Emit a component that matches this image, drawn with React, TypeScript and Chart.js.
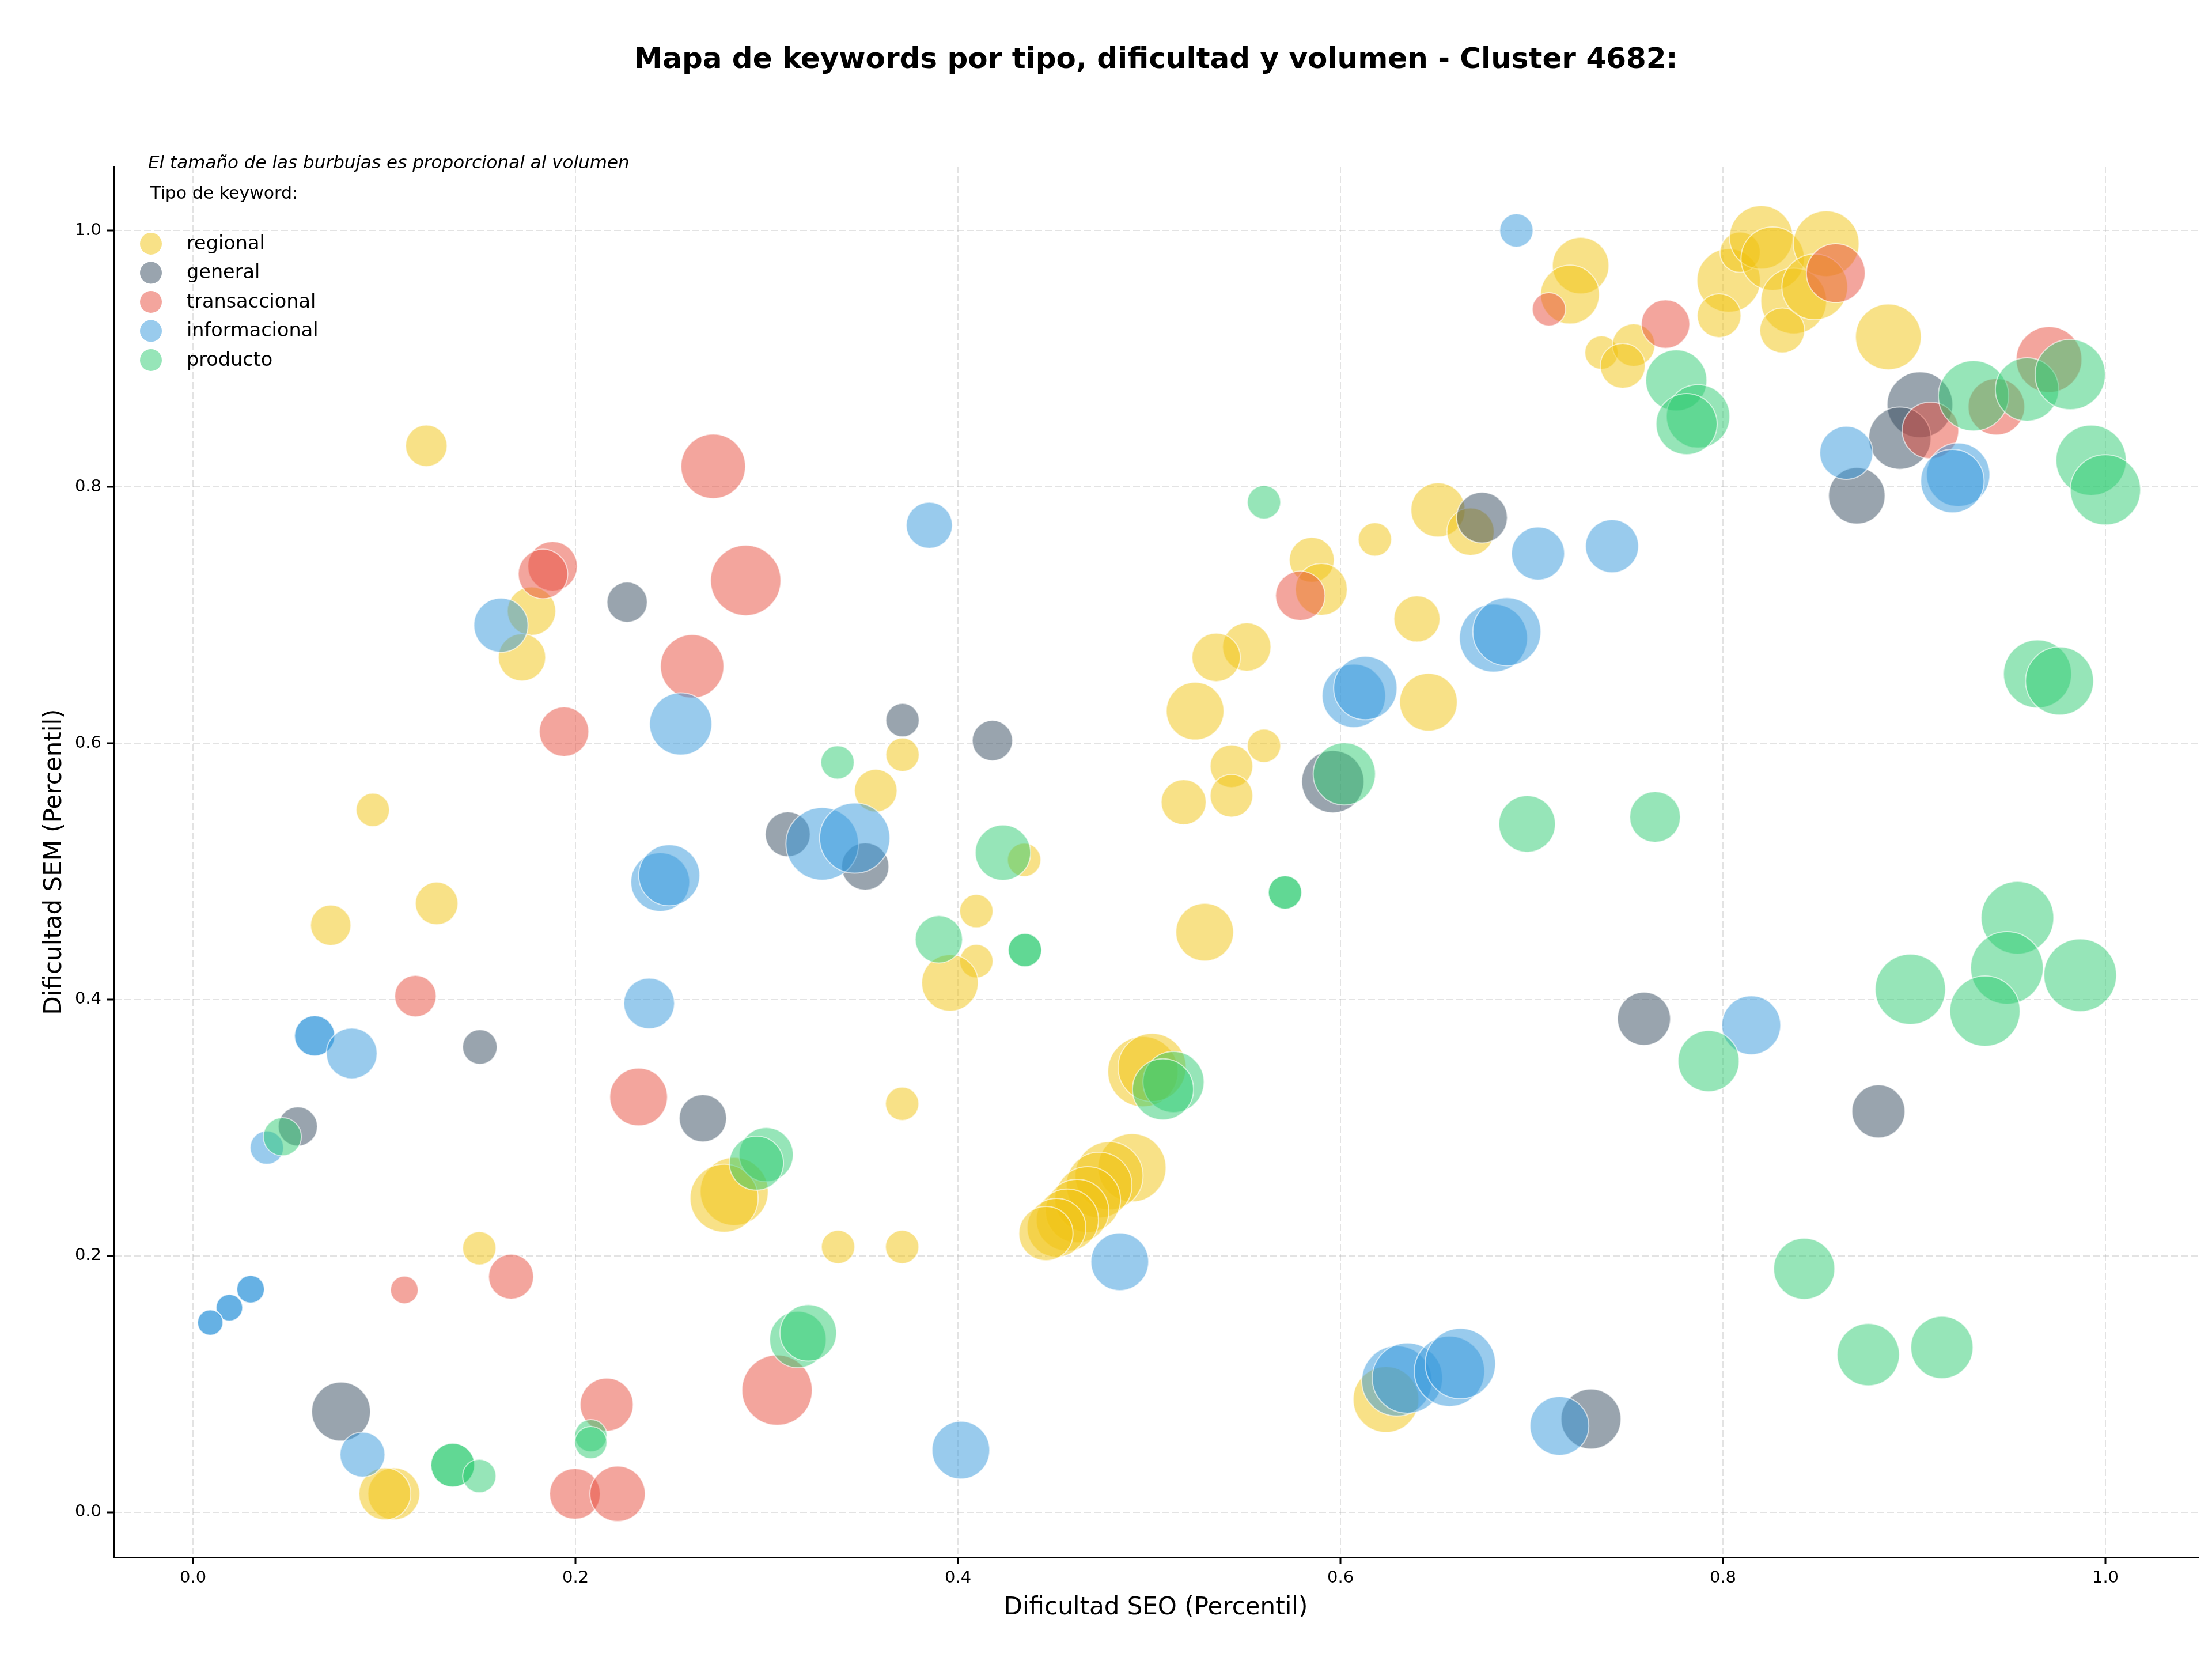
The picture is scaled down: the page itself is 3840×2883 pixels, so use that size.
import React, { useEffect, useRef } from "react";
import { Chart, registerables, BubbleController } from "chart.js";

Chart.register(...registerables);
// matplotlib does not shrink the axes to fit the largest bubble
(BubbleController.prototype as any).getMaxOverflow = function () {
  return 0;
};

const TITLE = "Mapa de keywords por tipo, dificultad y volumen - Cluster 4682:";
const SUBTITLE = "El tamaño de las burbujas es proporcional al volumen";
const LEGEND_TITLE = "Tipo de keyword:";
const X_LABEL = "Dificultad SEO (Percentil)";
const Y_LABEL = "Dificultad SEM (Percentil)";
const TICKS = [0, 0.2, 0.4, 0.6, 0.8, 1.0];

const CATEGORIES = ["regional", "general", "transaccional", "informacional", "producto"];

// regional
const regionalX = [0.122,0.177,0.172,0.094,0.585,0.590,0.618,0.651,0.668,0.640,0.551,0.535,0.524,0.646,0.371,0.357,0.560,0.543,0.543,0.518,0.4346,0.7256,0.720,0.7365,0.7533,0.7476,0.803,0.798,0.809,0.820,0.826,0.837,0.831,0.854,0.848,0.8865,0.072,0.1274,0.283,0.2777,0.1497,0.105,0.1003,0.4096,0.4096,0.3958,0.529,0.3708,0.3373,0.3708,0.4967,0.5015,0.491,0.479,0.4738,0.4678,0.4623,0.4572,0.4515,0.446,0.6238];
const regionalY = [0.832,0.703,0.667,0.548,0.743,0.720,0.759,0.782,0.765,0.697,0.675,0.667,0.625,0.632,0.591,0.563,0.598,0.582,0.559,0.554,0.509,0.9726,0.950,0.9047,0.9106,0.8944,0.961,0.9335,0.983,0.9946,0.978,0.945,0.922,0.9897,0.956,0.917,0.458,0.475,0.2503,0.245,0.206,0.0144,0.0144,0.469,0.430,0.413,0.4526,0.3187,0.207,0.207,0.3438,0.347,0.2688,0.2625,0.2553,0.244,0.235,0.228,0.222,0.2175,0.088];
const regionalVol = [144,196,187,93,169,225,93,245,187,178,196,196,278,278,93,152,93,152,152,169,93,267,289,93,152,169,336,160,136,336,336,361,169,361,361,361,136,152,387,387,93,225,225,93,93,267,278,93,93,93,413,387,387,387,361,361,336,324,289,245,361];

// general
const generalX = [0.227,0.311,0.674,0.371,0.418,0.596,0.3515,0.903,0.8925,0.870,0.150,0.2666,0.0548,0.0774,0.7587,0.8813,0.731];
const generalY = [0.710,0.529,0.776,0.618,0.602,0.570,0.5038,0.864,0.838,0.793,0.363,0.3074,0.301,0.0786,0.385,0.3128,0.0728];
const generalVol = [136,169,215,93,136,324,187,361,324,267,100,187,128,289,235,235,300];

// transaccional
const transX = [0.272,0.188,0.183,0.289,0.261,0.194,0.579,0.709,0.770,0.859,0.9085,0.943,0.9705,0.1163,0.233,0.1663,0.1105,0.3054,0.2163,0.1997,0.222];
const transY = [0.816,0.738,0.732,0.727,0.660,0.609,0.715,0.9385,0.927,0.9667,0.844,0.8625,0.8993,0.4027,0.324,0.1838,0.1735,0.0953,0.084,0.0144,0.0144];
const transVol = [348,205,205,413,336,205,205,93,196,289,267,267,361,144,278,169,64,413,235,215,256];

// informacional
const infoX = [0.161,0.255,0.385,0.680,0.687,0.607,0.613,0.692,0.8645,0.923,0.920,0.7033,0.742,0.2443,0.249,0.2385,0.0636,0.0636,0.083,0.0386,0.0301,0.0301,0.019,0.019,0.009,0.009,0.0886,0.329,0.346,0.4846,0.4015,0.6295,0.635,0.657,0.6627,0.8148,0.7145];
const infoY = [0.692,0.615,0.770,0.682,0.687,0.637,0.643,1.000,0.8265,0.8094,0.8045,0.748,0.7537,0.4917,0.497,0.397,0.3717,0.3717,0.358,0.2845,0.174,0.174,0.1596,0.1596,0.148,0.148,0.045,0.5215,0.526,0.1955,0.0485,0.1025,0.1047,0.110,0.116,0.380,0.0674];
const infoVol = [245,324,178,387,387,336,336,93,235,336,336,235,235,289,312,215,136,136,215,93,64,64,59,59,54,54,169,441,413,278,278,413,413,413,413,289,289];

// producto
const productoX = [0.560,0.337,0.602,0.4235,0.7756,0.787,0.781,0.931,0.959,0.9816,0.9925,1.0,0.9645,0.976,0.6976,0.7645,0.0467,0.2997,0.2946,0.3163,0.3217,0.1358,0.1358,0.1497,0.208,0.208,0.390,0.435,0.435,0.571,0.571,0.5127,0.5072,0.7925,0.898,0.954,0.9485,0.937,0.9868,0.8425,0.876,0.9145];
const productoY = [0.788,0.585,0.576,0.5146,0.883,0.855,0.849,0.871,0.876,0.8876,0.8207,0.7977,0.654,0.6485,0.537,0.5425,0.293,0.279,0.2724,0.1348,0.140,0.0368,0.0368,0.0283,0.0598,0.0544,0.447,0.4386,0.4386,0.4836,0.4836,0.3357,0.330,0.352,0.408,0.4638,0.4247,0.391,0.419,0.190,0.123,0.1286];
const productoVol = [93,93,324,256,312,336,312,413,336,413,413,413,387,387,267,215,121,245,245,267,267,160,160,93,87,87,187,93,93,93,93,312,312,312,413,441,441,413,441,312,324,324];

const SERIES_X = [regionalX, generalX, transX, infoX, productoX];
const SERIES_Y = [regionalY, generalY, transY, infoY, productoY];
const SERIES_VOL = [regionalVol, generalVol, transVol, infoVol, productoVol];

const COLORS = ["#F1C40F", "#34495E", "#E74C3C", "#3498DB", "#2ECC71"];
const ALPHA = 0.5;
const FONT = '"DejaVu Sans", "Liberation Sans", sans-serif';

function rgba(hex: string, a: number) {
  const n = parseInt(hex.slice(1), 16);
  return `rgba(${(n >> 16) & 255},${(n >> 8) & 255},${n & 255},${a})`;
}

const volToRadius = (v: number) => 3 * Math.sqrt(v);

const overlayPlugin = {
  id: "overlay",
  afterDraw(chart: any) {
    const ctx = chart.ctx as CanvasRenderingContext2D;
    const area = chart.chartArea;
    const cx = (area.left + area.right) / 2;
    ctx.save();
    ctx.fillStyle = "#000";
    ctx.textAlign = "center";
    ctx.textBaseline = "alphabetic";
    ctx.font = `bold 50px ${FONT}`;
    ctx.fillText(TITLE, cx, 118);
    ctx.font = `42px ${FONT}`;
    ctx.fillText(X_LABEL, cx, 2802);
    ctx.save();
    ctx.translate(106, (area.top + area.bottom) / 2);
    ctx.rotate(-Math.PI / 2);
    ctx.fillText(Y_LABEL, 0, 0);
    ctx.restore();
    ctx.textAlign = "left";
    ctx.font = `italic 31px ${FONT}`;
    ctx.fillText(SUBTITLE, 257, 292);
    ctx.font = `30px ${FONT}`;
    ctx.fillText(LEGEND_TITLE, 261, 345);
    ctx.textBaseline = "middle";
    ctx.font = `33.5px ${FONT}`;
    CATEGORIES.forEach((name, i) => {
      const y = 423 + i * 50.5;
      ctx.beginPath();
      ctx.arc(262, y, 19, 0, Math.PI * 2);
      ctx.fillStyle = rgba(COLORS[i], ALPHA);
      ctx.fill();
      ctx.fillStyle = "#000";
      ctx.fillText(name, 324, y + 1);
    });
    ctx.restore();
  },
};

export default function App() {
  const ref = useRef<HTMLCanvasElement>(null);

  useEffect(() => {
    if (!ref.current) return;
    const datasets = CATEGORIES.map((name, i) => ({
      label: name,
      order: CATEGORIES.length - i,
      clip: 0,
      data: SERIES_X[i].map((x, j) => ({ x, y: SERIES_Y[i][j], r: volToRadius(SERIES_VOL[i][j]) })),
      backgroundColor: rgba(COLORS[i], ALPHA),
      borderColor: "rgba(255,255,255,0.6)",
      borderWidth: 2,
      hoverBorderWidth: 2,
    }));

    const makeScale = (min: number, max: number, isY: boolean) => ({
      type: "linear" as const,
      min,
      max,
      afterBuildTicks: (scale: any) => {
        scale.ticks = TICKS.map((v) => ({ value: v }));
      },
      afterFit: (scale: any) => {
        if (isY) scale.width = 197;
        else scale.height = 180;
        scale.paddingLeft = 0;
        scale.paddingRight = 0;
        scale.paddingTop = 0;
        scale.paddingBottom = 0;
      },
      ticks: {
        callback: (v: any) => Number(v).toFixed(1),
        color: "#000",
        font: { family: FONT, size: 29 },
        padding: isY ? 10 : 8,
        maxRotation: 0,
        autoSkip: false,
      },
      grid: {
        color: "rgba(176,176,176,0.35)",
        lineWidth: 2,
        drawTicks: true,
        tickLength: 11,
        tickColor: "#000",
        tickWidth: 3,
        tickBorderDash: [],
      },
      border: {
        display: true,
        color: "#000",
        width: 3,
        dash: [12, 5],
      },
      title: { display: false },
    });

    const chart = new Chart(ref.current, {
      type: "bubble",
      data: { datasets },
      options: {
        responsive: false,
        maintainAspectRatio: false,
        devicePixelRatio: 1,
        animation: false,
        events: [],
        layout: { padding: { top: 289, right: 24, left: 0, bottom: 0 } },
        plugins: {
          legend: { display: false },
          title: { display: false },
          tooltip: { enabled: false },
        },
        scales: {
          x: makeScale(-0.0416, 1.0485, false),
          y: makeScale(-0.0351, 1.0499, true),
        },
      },
      plugins: [overlayPlugin],
    } as any);
    return () => chart.destroy();
  }, []);

  return (
    <div style={{ position: "absolute", left: 0, top: 0, width: 3840, height: 2883, background: "#fff", overflow: "hidden" }}>
      <canvas ref={ref} width={3840} height={2883} style={{ width: 3840, height: 2883, display: "block" }} />
    </div>
  );
}
